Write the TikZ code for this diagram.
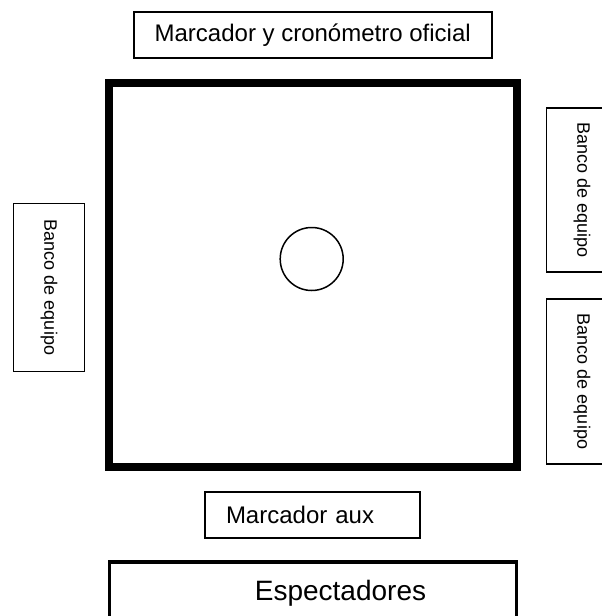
\documentclass[tikz,border=0pt]{standalone}
\usepackage{fontspec}
\setmainfont{Liberation Sans}
\usetikzlibrary{shapes,positioning}

\begin{document}
\begin{tikzpicture}[x=1pt,y=-1pt,
    box/.style={draw,line width=2pt,inner sep=0pt},
    bench/.style={box,line width=1.5pt,rotate=-90,minimum width=#1,minimum height=71pt,
        font=\fontsize{18}{22}\selectfont}]
    \useasboundingbox (0,0) rectangle (602,616);
    \clip (0,0) rectangle (602,616);
%the field and the centre circle
    \node[box,line width=8pt,minimum width=408pt,minimum height=384pt] (field) at (313,275) {};
    \node[draw,circle,line width=1.5pt,inner sep=0pt,minimum size=63pt] (centre) at (311.7,259) {};
%the official table
    \node[box,minimum width=358pt,minimum height=46.6pt,font=\fontsize{24}{28}\selectfont] (marc) at (312.7,35) {Marcador y cron\'ometro oficial};
%the benches
    \node[bench=168pt] (bankL) at (49,287.5) {Banco de equipo};
    \node[bench=164pt] (bankR1) at (582,190) {Banco de equipo};
    \node[bench=165pt] (bankR2) at (582,381.5) {Banco de equipo};
%below the field
    \node[box,minimum height=46pt,inner xsep=21pt,text width=173pt,align=left,
        font=\fontsize{24}{28}\selectfont] (aux) at (312.5,515) {Marcador aux};
    \node[box,line width=3.5pt,minimum width=406.6pt,minimum height=80pt] (spect) at (313,602) {};
    \node[font=\fontsize{28}{32}\selectfont,inner sep=0pt] (spectText) at (340.5,593) {Espectadores};
\end{tikzpicture}
\end{document}
